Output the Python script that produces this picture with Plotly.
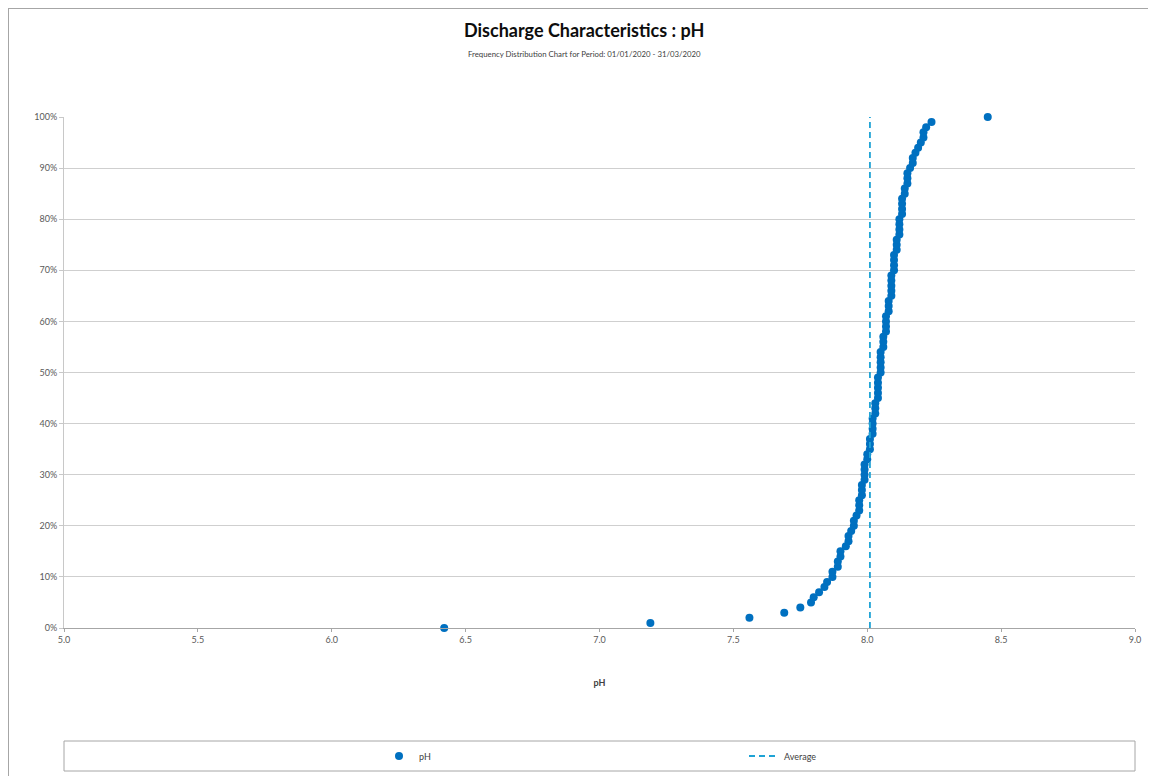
import plotly.graph_objects as go

# ---- data ----
percentiles = [i / 100 for i in range(101)]
ph_values = [
    6.42, 7.19, 7.56, 7.69, 7.75, 7.79, 7.80, 7.82, 7.84, 7.85,
    7.87, 7.87, 7.89, 7.89, 7.90, 7.90, 7.92, 7.93, 7.93, 7.94,
    7.95, 7.95, 7.96, 7.97, 7.97, 7.97, 7.98, 7.98, 7.98, 7.99,
    7.99, 7.99, 7.99, 8.00, 8.00, 8.01, 8.01, 8.01, 8.02, 8.02,
    8.02, 8.02, 8.03, 8.03, 8.03, 8.04, 8.04, 8.04, 8.04, 8.04,
    8.05, 8.05, 8.05, 8.05, 8.05, 8.06, 8.06, 8.06, 8.07, 8.07,
    8.07, 8.07, 8.08, 8.08, 8.08, 8.09, 8.09, 8.09, 8.09, 8.09,
    8.10, 8.10, 8.10, 8.10, 8.11, 8.11, 8.11, 8.12, 8.12, 8.12,
    8.12, 8.13, 8.13, 8.13, 8.13, 8.14, 8.14, 8.15, 8.15, 8.15,
    8.16, 8.17, 8.17, 8.18, 8.19, 8.20, 8.21, 8.21, 8.22, 8.24,
    8.45,
]
average_ph = 8.01
avg_y = [0, 1]

title_text = "Discharge Characteristics : pH"
subtitle_text = "Frequency Distribution Chart for Period: 01/01/2020 - 31/03/2020"
x_title = "pH"

FONT = "Lato"
OFF = 8  # page body margin
W, H = 1156 - OFF, 776 - OFF
L, R, T, B = 64 - OFF, 21, 117 - OFF, 148
pw = W - L - R
ph = H - T - B


def px_x(p):
    return (p - OFF - L) / pw


def px_y(p):
    return (H - B - (p - OFF)) / ph


fig = go.Figure()
fig.add_trace(go.Scatter(
    x=ph_values, y=percentiles, mode="markers", name="pH",
    marker=dict(color="#0070C0", size=8, line=dict(width=0)),
    cliponaxis=False,
    legend="legend",
))
fig.add_trace(go.Scatter(
    x=[average_ph, average_ph], y=avg_y, mode="lines", name="Average",
    line=dict(color="#1FA3D5", width=1.8, dash="6px,4px"),
    legend="legend2",
))

grid = "#CFCFCF"
fig.update_layout(
    width=W, height=H,
    margin=dict(l=L, r=R, t=T, b=B, autoexpand=False),
    paper_bgcolor="white", plot_bgcolor="white",
    font=dict(family=FONT, size=9, color="#595959"),
    xaxis=dict(
        range=[5, 9], dtick=0.5, tick0=5, tickformat=".1f",
        showgrid=False, zeroline=False, automargin=False,
        showline=True, linecolor="#A6A6A6", linewidth=1,
        ticks="outside", ticklen=3, tickcolor="#A6A6A6",
        tickfont=dict(family=FONT, size=9, color="#595959"),
        title=dict(text="<b>" + x_title + "</b>", standoff=35,
                   font=dict(family=FONT, size=9, color="#404040")),
    ),
    yaxis=dict(
        range=[0, 1], dtick=0.1, tickformat=".0%", automargin=False,
        showgrid=True, gridcolor=grid, gridwidth=1, zeroline=False,
        showline=True, linecolor="#C8C8C8", linewidth=1,
        ticks="outside", ticklen=4, tickcolor="#C8C8C8",
        tickfont=dict(family=FONT, size=9, color="#595959"),
    ),
    legend=dict(
        orientation="h", x=px_x(379), y=px_y(756), xanchor="left", yanchor="middle",
        bgcolor="rgba(0,0,0,0)", font=dict(family=FONT, size=9, color="#404040"),
    ),
    legend2=dict(
        orientation="h", x=px_x(744), y=px_y(756), xanchor="left", yanchor="middle",
        bgcolor="rgba(0,0,0,0)", font=dict(family=FONT, size=9, color="#404040"),
    ),
    showlegend=True,
    annotations=[
        dict(text="<b>" + title_text + "</b>", xref="paper", yref="paper",
             x=px_x(584), y=px_y(30), xanchor="center", yanchor="middle",
             showarrow=False, font=dict(family=FONT, size=18, color="#0d0d0d")),
        dict(text=subtitle_text, xref="paper", yref="paper",
             x=px_x(584), y=px_y(54), xanchor="center", yanchor="middle",
             showarrow=False, font=dict(family=FONT, size=7.8, color="#404040")),
    ],
    shapes=[
        # legend box
        dict(type="rect", xref="paper", yref="paper",
             x0=0, x1=1, y0=px_y(771), y1=px_y(741),
             line=dict(color="#A6A6A6", width=1), fillcolor="rgba(0,0,0,0)"),
        # outer chart border (left and top)
        dict(type="line", xref="paper", yref="paper",
             x0=px_x(8.5), x1=px_x(8.5), y0=px_y(6.5), y1=px_y(790),
             line=dict(color="#A6A6A6", width=1)),
        dict(type="line", xref="paper", yref="paper",
             x0=px_x(8.5), x1=px_x(1170), y0=px_y(8.5), y1=px_y(8.5),
             line=dict(color="#A6A6A6", width=1)),
    ],
)

fig.write_html("out.html")
